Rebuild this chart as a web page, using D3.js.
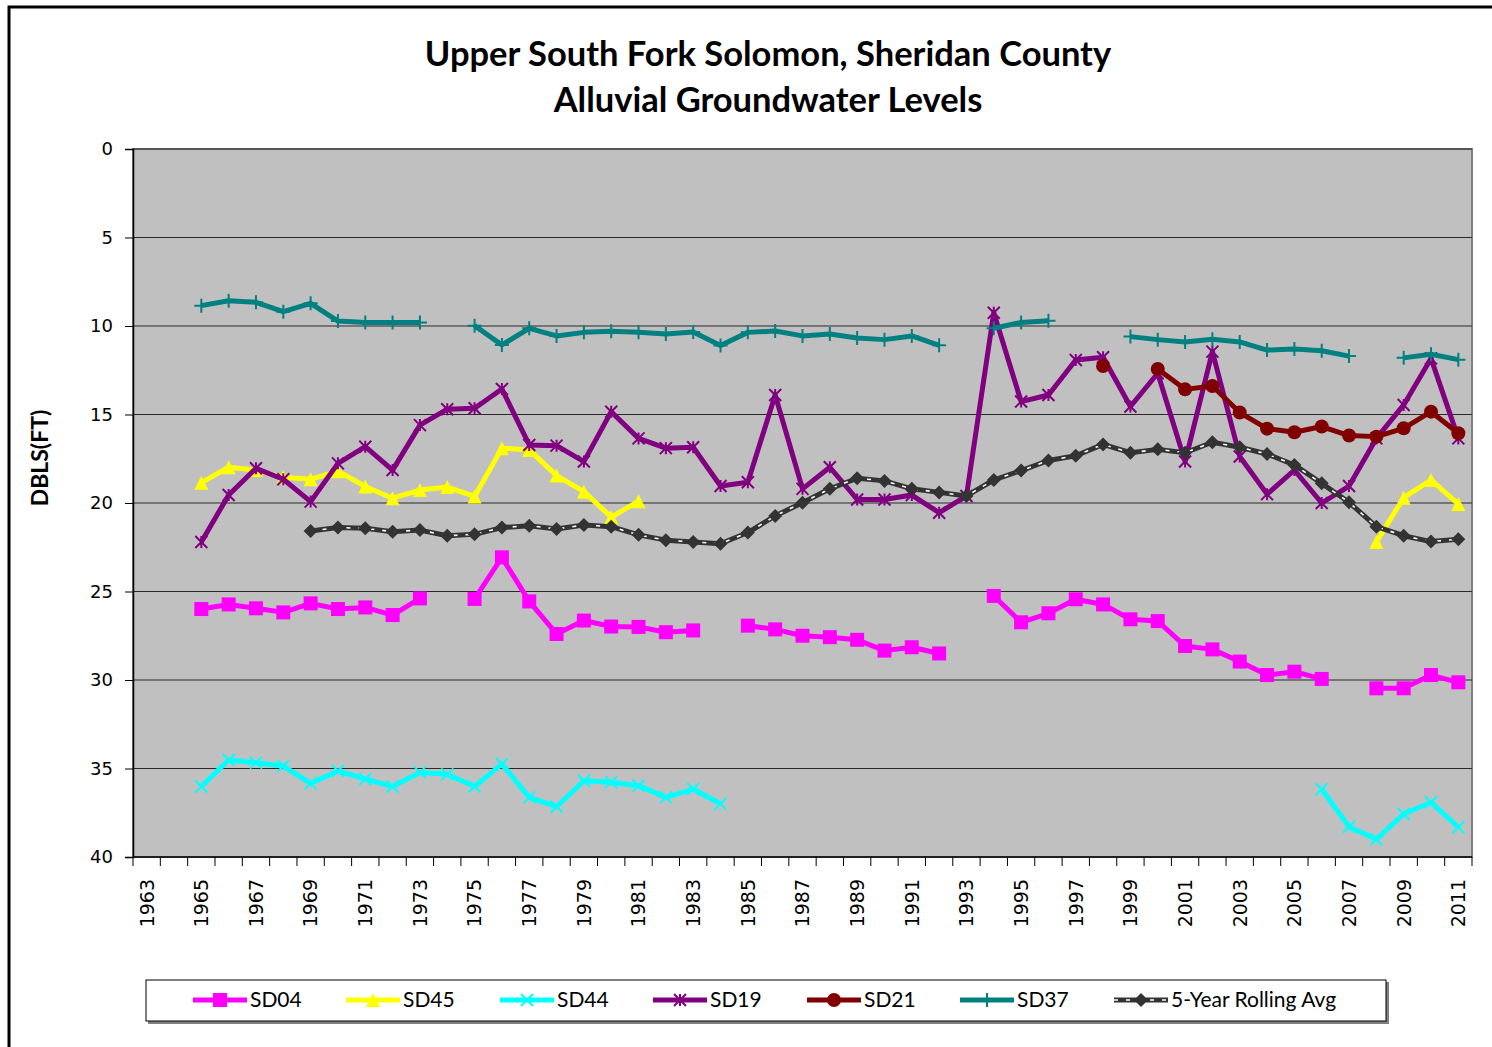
<!DOCTYPE html>
<html>
<head>
<meta charset="utf-8">
<title>Upper South Fork Solomon</title>
<style>
  body { margin: 0; background: #fff; }
  .tick-y text { font-family: "DejaVu Sans", sans-serif; font-size: 18px; }
  .tick-x text { font-family: "DejaVu Sans", sans-serif; font-size: 19px; }
  .title { font-family: Lato, sans-serif; font-weight: bold; font-size: 34.5px; }
  .legend text { font-family: Lato, sans-serif; font-size: 21px; }
</style>
</head>
<body>
<script src="https://cdn.jsdelivr.net/npm/d3@7"></script>
<script>
// years on the category axis
var years = [1963,1964,1965,1966,1967,1968,1969,1970,1971,1972,1973,1974,1975,1976,1977,1978,1979,1980,
  1981,1982,1983,1984,1985,1986,1987,1988,1989,1990,1991,1992,1993,1994,1995,1996,1997,1998,1999,2000,
  2001,2002,2003,2004,2005,2006,2007,2008,2009,2010,2011];
var yTicks = [0, 5, 10, 15, 20, 25, 30, 35, 40];

// depth below land surface (ft), one value per year above, null = no reading
var sd04 = [null,null,25.99,25.73,25.95,26.18,25.67,25.99,25.9,26.33,25.39,null,25.42,23.07,25.56,27.4,26.64,26.98,
  27.0,27.3,27.2,null,26.93,27.14,27.5,27.58,27.73,28.34,28.15,28.5,null,25.25,26.74,26.23,25.44,25.73,26.57,26.67,
  28.08,28.27,28.96,29.72,29.53,29.94,null,30.47,30.47,29.72,30.13];
var sd45 = [null,null,18.85,17.98,18.14,18.55,18.66,18.2,19.07,19.73,19.27,19.1,19.63,16.9,17.0,18.45,19.36,20.8,
  19.9,null,null,null,null,null,null,null,null,null,null,null,null,null,null,null,null,null,null,null,
  null,null,null,null,null,null,null,22.2,19.7,18.7,20.06];
var sd44 = [null,null,36.02,34.52,34.67,34.86,35.84,35.14,35.59,36.02,35.22,35.33,36.02,34.75,36.63,37.16,35.69,35.78,
  35.97,36.63,36.16,37.0,null,null,null,null,null,null,null,null,null,null,null,null,null,null,null,null,
  null,null,null,null,null,36.17,38.29,39.0,37.57,36.91,38.32];
var sd19 = [null,null,22.2,19.55,18.04,18.66,19.92,17.76,16.82,18.14,15.6,14.7,14.65,13.56,16.72,16.76,17.66,14.84,
  16.35,16.9,16.85,19.04,18.83,13.9,19.2,17.98,19.8,19.8,19.55,20.55,19.6,9.25,14.27,13.9,11.92,11.77,14.55,12.67,
  17.66,11.45,17.37,19.5,18.14,20.0,19.04,16.35,14.46,11.83,16.35];
var sd21 = [null,null,null,null,null,null,null,null,null,null,null,null,null,null,null,null,null,null,
  null,null,null,null,null,null,null,null,null,null,null,null,null,null,null,null,null,12.26,null,12.43,
  13.58,13.39,14.89,15.8,16.0,15.68,16.19,16.25,15.78,14.84,16.06];
var sd37 = [null,null,8.85,8.57,8.66,9.19,8.72,9.72,9.8,9.8,9.8,null,9.98,11.07,10.13,10.56,10.36,10.3,
  10.36,10.45,10.34,11.1,10.36,10.28,10.56,10.45,10.68,10.77,10.56,11.09,null,10.13,9.8,9.7,null,null,10.6,10.77,
  10.9,10.75,10.9,11.36,11.3,11.4,11.7,null,11.8,11.6,11.9];
var rolling = [null,null,null,null,null,null,21.58,21.39,21.43,21.62,21.53,21.85,21.77,21.39,21.28,21.47,21.24,21.34,
  21.8,22.1,22.2,22.3,21.67,20.73,19.98,19.2,18.6,18.75,19.2,19.4,19.6,18.7,18.17,17.6,17.33,16.69,17.16,16.97,
  17.16,16.57,16.85,17.23,17.85,18.89,19.96,21.34,21.85,22.18,22.05];

var series = [
  {name: "SD04", values: sd04, color: "#FF00FF", marker: "square"},
  {name: "SD45", values: sd45, color: "#FFFF00", marker: "triangle"},
  {name: "SD44", values: sd44, color: "#00FFFF", marker: "x"},
  {name: "SD19", values: sd19, color: "#800080", marker: "star"},
  {name: "SD21", values: sd21, color: "#800000", marker: "circle"},
  {name: "SD37", values: sd37, color: "#008080", marker: "plus"},
  {name: "5-Year Rolling Avg", values: rolling, color: "#333333", marker: "diamond", dashed: true}
];

var W = 1492, H = 1047;
var plot = {left: 133, right: 1472, top: 149, bottom: 857};

var svg = d3.select("body").append("svg")
  .attr("width", W)
  .attr("height", H);

// outer chart frame (only top/left edges show in the picture)
svg.append("rect")
  .attr("x", 9).attr("y", 7)
  .attr("width", W + 20).attr("height", H + 20)
  .attr("fill", "#fff")
  .attr("stroke", "#000")
  .attr("stroke-width", 3);

var x = d3.scaleBand()
  .domain(years)
  .range([plot.left, plot.right]);

var y = d3.scaleLinear()
  .domain([0, 40])
  .range([plot.top, plot.bottom]);

// plot area
svg.append("rect")
  .attr("x", plot.left).attr("y", plot.top)
  .attr("width", plot.right - plot.left).attr("height", plot.bottom - plot.top)
  .attr("fill", "#C0C0C0")
  .attr("stroke", "#808080")
  .attr("stroke-width", 2);

// gridlines
svg.append("g").selectAll("line")
  .data(yTicks.slice(0, -1))
  .enter().append("line")
  .attr("x1", plot.left).attr("x2", plot.right)
  .attr("y1", function (d) { return y(d); })
  .attr("y2", function (d) { return y(d); })
  .attr("stroke", "#2a2a2a")
  .attr("stroke-width", 1.2);

// y axis
var yAxis = svg.append("g")
  .attr("class", "tick-y")
  .attr("transform", "translate(" + plot.left + ",0)")
  .call(d3.axisLeft(y).tickValues(yTicks).tickSize(8).tickPadding(12));
yAxis.select(".domain").attr("stroke", "#000").attr("stroke-width", 1.5);
yAxis.selectAll(".tick line").attr("stroke", "#000");
yAxis.selectAll(".tick text").attr("fill", "#000");

// x axis: tick marks on the band edges, labels every other year
var xAxis = svg.append("g")
  .attr("class", "tick-x")
  .attr("transform", "translate(0," + plot.bottom + ")");
xAxis.append("line")
  .attr("x1", plot.left).attr("x2", plot.right)
  .attr("stroke", "#000").attr("stroke-width", 1.5);
var edges = years.map(function (d) { return x(d); }).concat([plot.right]);
xAxis.selectAll("line.tk")
  .data(edges)
  .enter().append("line")
  .attr("class", "tk")
  .attr("x1", function (d) { return d; })
  .attr("x2", function (d) { return d; })
  .attr("y1", 0).attr("y2", 9)
  .attr("stroke", "#000");
xAxis.selectAll("text")
  .data(years.filter(function (d, i) { return i % 2 === 0; }))
  .enter().append("text")
  .attr("transform", function (d) {
    return "translate(" + (x(d) + x.bandwidth() / 2) + ",22) rotate(-90)";
  })
  .attr("dy", "0.36em")
  .attr("text-anchor", "end")
  .text(function (d) { return d; });

// titles
svg.append("text").attr("class", "title")
  .attr("x", 768).attr("y", 66)
  .attr("text-anchor", "middle")
  .text("Upper South Fork Solomon, Sheridan County");
svg.append("text").attr("class", "title")
  .attr("x", 768).attr("y", 112)
  .attr("text-anchor", "middle")
  .text("Alluvial Groundwater Levels");
svg.append("text")
  .attr("transform", "translate(48,458) rotate(-90)")
  .attr("text-anchor", "middle")
  .style("font-family", "Lato, sans-serif")
  .style("font-weight", "bold")
  .style("font-size", "23px")
  .text("DBLS(FT)");

// marker drawing
function drawMarker(g, type, color, s) {
  if (type === "square") {
    g.append("rect").attr("x", -s).attr("y", -s).attr("width", 2 * s).attr("height", 2 * s).attr("fill", color);
  } else if (type === "triangle") {
    g.append("path").attr("d", "M0," + (-s) + "L" + s + "," + s + "L" + (-s) + "," + s + "Z").attr("fill", color);
  } else if (type === "circle") {
    g.append("circle").attr("r", s).attr("fill", color);
  } else if (type === "diamond") {
    g.append("path").attr("d", "M0," + (-s) + "L" + s + ",0L0," + s + "L" + (-s) + ",0Z").attr("fill", color);
  } else {
    var d = "";
    if (type === "x" || type === "star") d += "M" + (-s) + "," + (-s) + "L" + s + "," + s + "M" + (-s) + "," + s + "L" + s + "," + (-s);
    if (type === "star" || type === "plus") d += "M0," + (-s) + "L0," + s;
    if (type === "plus") d += "M" + (-s) + ",0L" + s + ",0";
    g.append("path").attr("d", d).attr("stroke", color).attr("stroke-width", 2).attr("fill", "none");
  }
}
var markerSize = {square: 7, triangle: 7, x: 6, star: 6, circle: 7, plus: 7, diamond: 7};

var line = d3.line()
  .defined(function (d) { return d.v != null; })
  .x(function (d) { return x(d.year) + x.bandwidth() / 2; })
  .y(function (d) { return y(d.v); });

series.forEach(function (s) {
  var pts = years.map(function (yr, i) { return {year: yr, v: s.values[i]}; });
  var g = svg.append("g");
  g.append("path")
    .attr("d", line(pts))
    .attr("fill", "none")
    .attr("stroke", s.color)
    .attr("stroke-width", 5)
    .attr("stroke-linejoin", "round");
  if (s.dashed) {
    g.append("path")
      .attr("d", line(pts))
      .attr("fill", "none")
      .attr("stroke", "#fff")
      .attr("stroke-width", 1.6)
      .attr("stroke-dasharray", "4,8");
  }
  pts.filter(function (d) { return d.v != null; }).forEach(function (d) {
    var m = g.append("g")
      .attr("transform", "translate(" + (x(d.year) + x.bandwidth() / 2) + "," + y(d.v) + ")");
    drawMarker(m, s.marker, s.color, markerSize[s.marker]);
  });
});

// legend
var lg = svg.append("g").attr("class", "legend");
lg.append("rect")
  .attr("x", 148).attr("y", 982).attr("width", 1241).attr("height", 42)
  .attr("fill", "#808080");
lg.append("rect")
  .attr("x", 146).attr("y", 980).attr("width", 1240).attr("height", 41)
  .attr("fill", "#fff").attr("stroke", "#000").attr("stroke-width", 1);
var legendX = [193, 346, 500, 653, 807, 960, 1114];
series.forEach(function (s, i) {
  var item = lg.append("g").attr("transform", "translate(" + legendX[i] + ",1000)");
  item.append("line").attr("x1", 0).attr("x2", 54)
    .attr("stroke", s.color).attr("stroke-width", 5);
  if (s.dashed) {
    item.append("line").attr("x1", 0).attr("x2", 54)
      .attr("stroke", "#fff").attr("stroke-width", 1.6).attr("stroke-dasharray", "4,8");
  }
  var m = item.append("g").attr("transform", "translate(27,0)");
  drawMarker(m, s.marker, s.color, markerSize[s.marker]);
  item.append("text").attr("x", 57).attr("y", 7).text(s.name);
});
</script>
</body>
</html>
